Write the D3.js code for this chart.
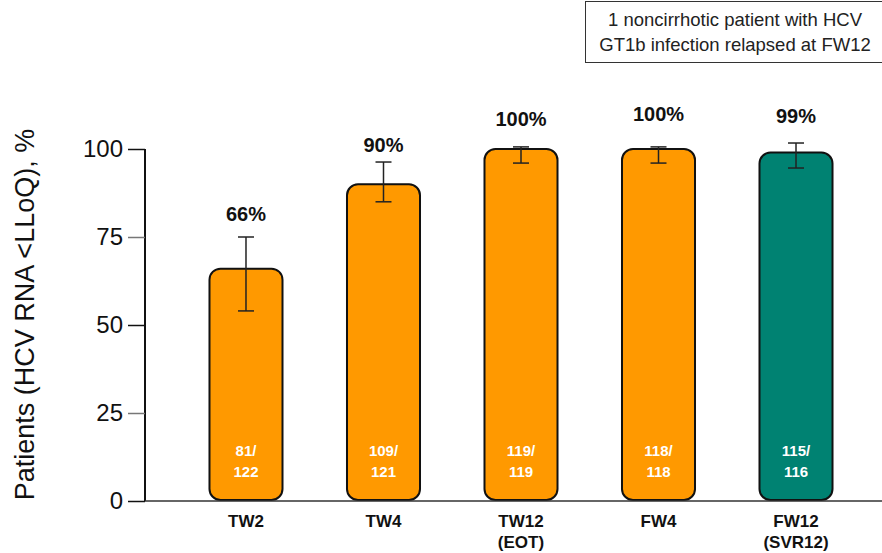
<!DOCTYPE html>
<html>
<head>
<meta charset="utf-8">
<script src="https://cdn.jsdelivr.net/npm/d3@7"></script>
<style>
  html, body { margin: 0; padding: 0; background: #fff; }
  svg { display: block; font-family: "Liberation Sans", Arial, sans-serif; }
</style>
</head>
<body>
<svg id="chart" width="882" height="553"></svg>
<script>
// Time points and response rates
const categories = ["TW2", "TW4", "TW12", "FW4", "FW12"];
const subLabels = ["", "", "(EOT)", "", "(SVR12)"];
const values = [66, 90, 100, 100, 99];
const ciLow = [54, 85, 96, 96, 94.6];
const ciHigh = [75, 96.3, 100.6, 100.6, 101.7];
const responders = [81, 109, 119, 118, 115];
const totals = [122, 121, 119, 118, 116];
const barColors = ["#FF9900", "#FF9900", "#FF9900", "#FF9900", "#008272"];
const yTicks = [0, 25, 50, 75, 100];
const noteLines = ["1 noncirrhotic patient with HCV", "GT1b infection relapsed at FW12"];

const svg = d3.select("#chart");
const W = 882, H = 553;

const y = d3.scaleLinear().domain([0, 100]).range([501, 149]);
const x = d3.scaleBand().domain(categories).range([145, 897])
  .paddingInner(0.469).paddingOuter(0.469);

// Y axis
const yAxis = d3.axisLeft(y).tickValues(yTicks).tickSize(17).tickPadding(5);
const gy = svg.append("g").attr("transform", "translate(145,0)").call(yAxis);
gy.select(".domain").attr("d", `M0,${y(100)}V${y(0)}`).attr("stroke", "#111").attr("stroke-width", 2);
gy.selectAll(".tick line").attr("stroke", d => (d === 25 || d === 75) ? "#777" : "#111").attr("stroke-width", 1.5);
gy.selectAll(".tick text").attr("font-size", 24).attr("fill", "#111")
  .attr("font-family", "Liberation Sans, Arial, sans-serif");

// Y axis title
svg.append("text")
  .attr("transform", `translate(34,${(y(0) + 120) / 2 + 4}) rotate(-90)`)
  .attr("text-anchor", "middle")
  .attr("font-size", 27).attr("fill", "#111")
  .text("Patients (HCV RNA <LLoQ), %");

// Bars
const bars = svg.append("g");
bars.selectAll("rect").data(values).join("rect")
  .attr("x", (d, i) => x(categories[i]))
  .attr("width", x.bandwidth())
  .attr("y", d => y(d))
  .attr("height", d => y(0) - y(d) - 1)
  .attr("rx", 11).attr("ry", 11)
  .attr("fill", (d, i) => barColors[i])
  .attr("stroke", "#111").attr("stroke-width", 2);

// X baseline
svg.append("line")
  .attr("x1", 145).attr("x2", W).attr("y1", y(0)).attr("y2", y(0))
  .attr("stroke", "#333").attr("stroke-width", 1.5);

// Error bars
const eb = svg.append("g").attr("stroke", "#222").attr("stroke-width", 1.5);
values.forEach((v, i) => {
  const cx = x(categories[i]) + x.bandwidth() / 2;
  eb.append("line").attr("x1", cx).attr("x2", cx).attr("y1", y(ciHigh[i])).attr("y2", y(ciLow[i]));
  eb.append("line").attr("x1", cx - 8).attr("x2", cx + 8).attr("y1", y(ciHigh[i])).attr("y2", y(ciHigh[i]));
  eb.append("line").attr("x1", cx - 8).attr("x2", cx + 8).attr("y1", y(ciLow[i])).attr("y2", y(ciLow[i]));
});

// Percent labels above error bars (small per-label gap above the cap)
const labelGap = [16, 10, 21, 26, 20];
svg.append("g").selectAll("text").data(values).join("text")
  .attr("x", (d, i) => x(categories[i]) + x.bandwidth() / 2)
  .attr("y", (d, i) => y(ciHigh[i]) - labelGap[i])
  .attr("text-anchor", "middle")
  .attr("font-size", 20).attr("font-weight", "bold").attr("fill", "#111")
  .text(d => d + "%");

// n/N labels inside bars
const inner = svg.append("g").attr("fill", "#fff").attr("font-weight", "bold")
  .attr("font-size", 15).attr("text-anchor", "middle");
responders.forEach((r, i) => {
  const cx = x(categories[i]) + x.bandwidth() / 2;
  inner.append("text").attr("x", cx).attr("y", 456).text(r + "/");
  inner.append("text").attr("x", cx).attr("y", 477).text(totals[i]);
});

// Category labels
const xl = svg.append("g").attr("font-weight", "bold").attr("font-size", 17)
  .attr("fill", "#111").attr("text-anchor", "middle");
categories.forEach((c, i) => {
  const cx = x(c) + x.bandwidth() / 2;
  const t = xl.append("text").attr("x", cx).attr("y", 527);
  t.append("tspan").attr("x", cx).text(c);
  if (subLabels[i]) t.append("tspan").attr("x", cx).attr("dy", 21).text(subLabels[i]);
});

// Footnote box
const box = svg.append("g");
box.append("rect").attr("x", 585.5).attr("y", 1.5).attr("width", 300).attr("height", 61)
  .attr("fill", "#fff").attr("stroke", "#333").attr("stroke-width", 1);
noteLines.forEach((t, i) => {
  box.append("text").attr("x", 735).attr("y", 26 + i * 25)
    .attr("text-anchor", "middle").attr("font-size", 18.5).attr("fill", "#222").text(t);
});
</script>
</body>
</html>
